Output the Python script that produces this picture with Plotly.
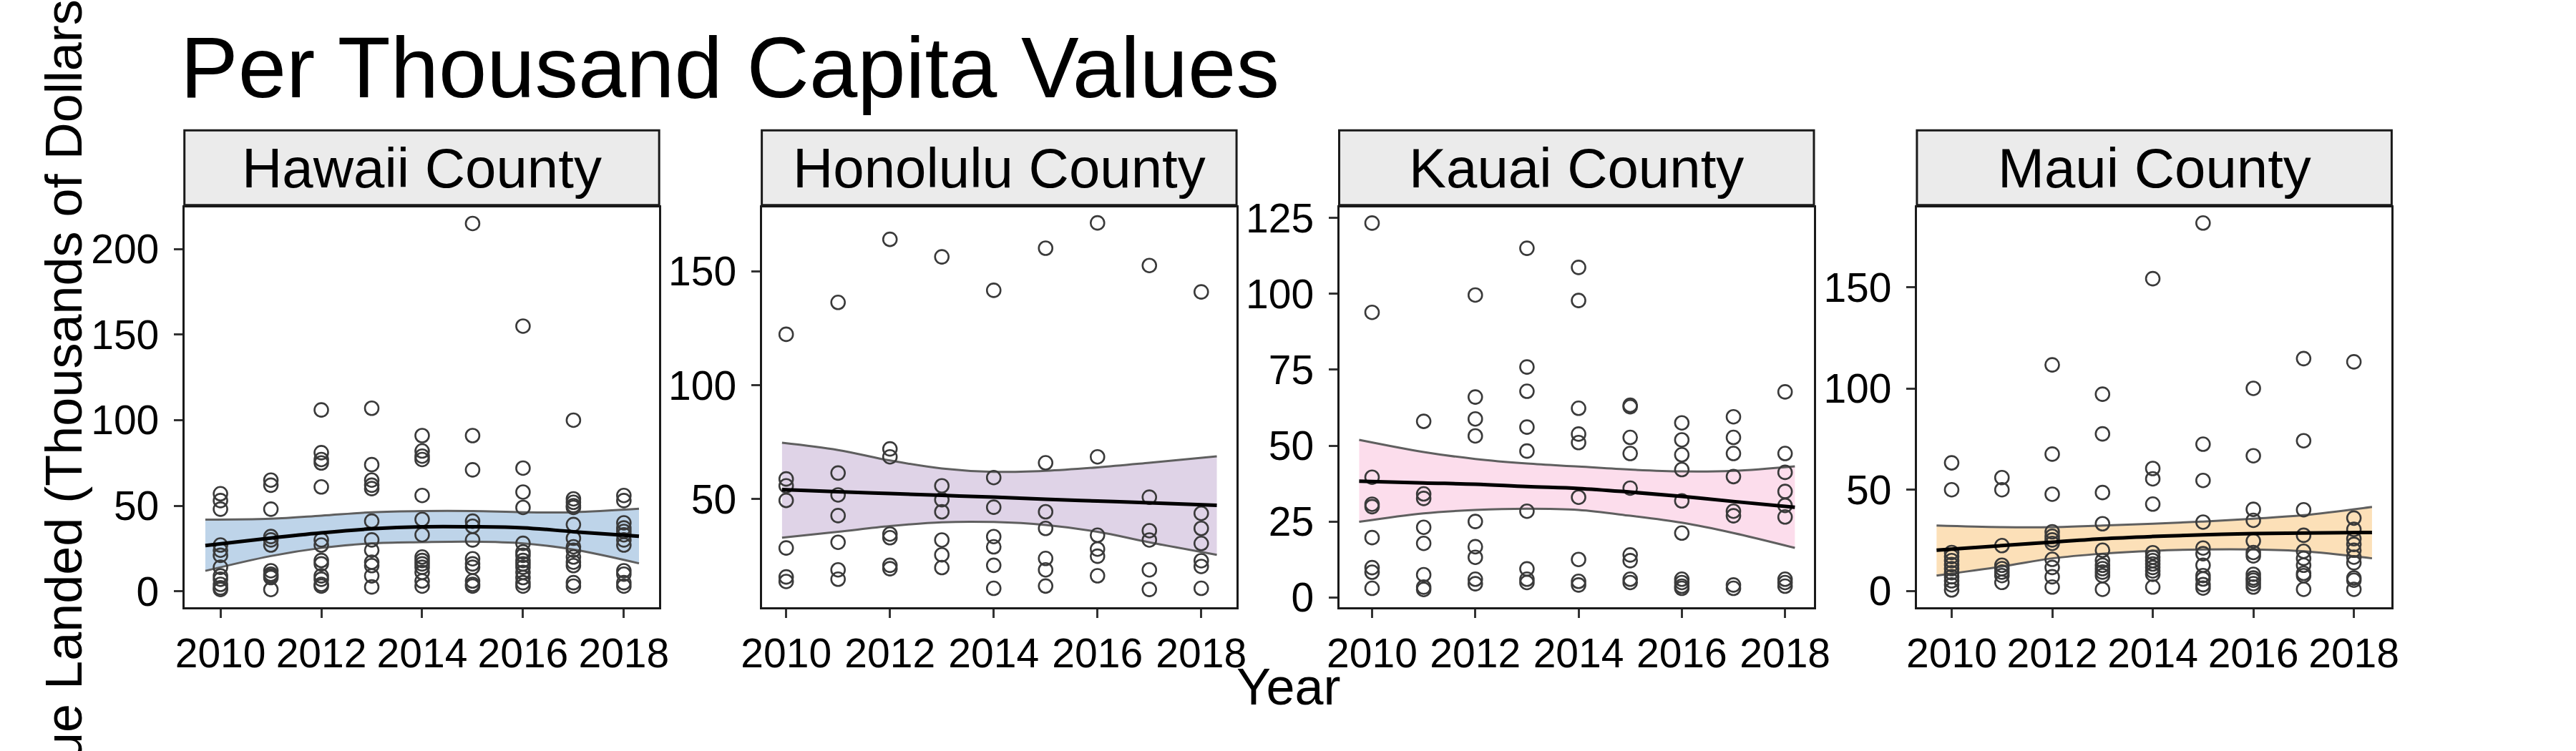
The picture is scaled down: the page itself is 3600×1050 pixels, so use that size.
import plotly.graph_objects as go

# ---------------- data ----------------
years = [2010, 2011, 2012, 2013, 2014, 2015, 2016, 2017, 2018]
counties = ["Hawaii County", "Honolulu County", "Kauai County", "Maui County"]

hawaii_values = [
    [57, 53, 48, 27, 24, 21, 14, 9, 7, 4, 2, 1],
    [65, 62, 48, 32, 30, 27, 12, 10, 9, 8, 1],
    [106, 81, 77, 75, 61, 30, 27, 18, 16, 9, 7, 4, 3],
    [107, 74, 65, 62, 60, 41, 30, 24, 17, 15, 9, 2.5],
    [91, 82, 79, 77, 56, 42, 33, 20, 18, 16, 14, 11, 6, 3],
    [215, 91, 71, 41, 38, 30, 19, 16, 14, 6, 4, 3],
    [155, 72, 58, 49, 28, 23, 21, 18, 16, 14, 11, 8, 5, 3],
    [100, 54, 52, 50, 49, 39, 31, 26, 24, 20, 17, 15, 5, 3],
    [56, 53, 40, 37, 35, 33, 30, 27, 12, 10, 5, 3],
]
honolulu_values = [
    [122.4, 58.9, 55.9, 49.5, 28.6, 15.9, 13.9],
    [136.4, 61.5, 51.9, 42.8, 31.1, 19.0, 14.9],
    [164.1, 72.1, 68.6, 34.7, 33.1, 21.0, 19.5],
    [156.4, 55.9, 49.8, 44.5, 32.1, 25.6, 20.0],
    [141.7, 59.5, 46.5, 33.6, 29.1, 21.0, 10.9],
    [160.2, 66.0, 44.5, 37.2, 24.0, 19.0, 11.9],
    [171.3, 68.6, 34.2, 28.1, 25.0, 16.4],
    [152.6, 50.9, 36.2, 32.1, 19.0, 10.4],
    [141.0, 43.8, 37.2, 30.6, 23.0, 20.5, 10.9],
]
kauai_values = [
    [123.3, 93.9, 39.6, 30.7, 29.9, 19.7, 9.8, 8.3, 3.0],
    [58.0, 34.1, 32.6, 23.1, 17.8, 7.5, 3.4, 2.6],
    [99.6, 66.0, 58.8, 53.2, 25.0, 16.7, 13.2, 6.0, 4.5],
    [115.0, 75.9, 67.9, 56.1, 48.2, 28.4, 9.4, 6.0, 4.9],
    [108.7, 97.8, 62.3, 53.8, 51.0, 33.0, 12.5, 5.3, 4.1],
    [63.3, 62.8, 52.7, 47.4, 36.0, 14.0, 12.1, 6.0, 4.9],
    [57.5, 51.9, 47.0, 42.1, 31.8, 21.2, 6.0, 4.9, 3.7, 3.0],
    [59.5, 52.7, 47.4, 39.8, 28.4, 26.9, 4.1, 3.0],
    [67.7, 47.4, 41.2, 34.9, 30.3, 26.5, 6.0, 4.9, 3.7],
]
maui_values = [
    [63.3, 50.0, 19, 17, 15, 13, 11, 9, 7, 5, 3, 0.5],
    [56.0, 50.0, 22.4, 12.7, 11.0, 9.3, 7.6, 4.2],
    [111.7, 67.6, 47.8, 29.2, 27.0, 25.2, 23.5, 15.6, 11.6, 7.0, 1.9],
    [97.2, 77.6, 48.6, 33.2, 20.1, 15.0, 12.7, 11.0, 9.3, 7.6, 0.8],
    [154.3, 60.5, 55.4, 42.9, 18.9, 16.7, 15.0, 13.3, 11.6, 9.9, 8.2, 1.9],
    [181.8, 72.5, 54.6, 34.0, 21.2, 18.4, 12.7, 7.6, 5.9, 3.1, 1.4],
    [100.1, 66.8, 40.3, 34.9, 24.7, 19.0, 17.3, 8.2, 6.4, 5.3, 3.6, 1.9],
    [114.8, 74.2, 40.1, 27.5, 19.6, 16.1, 12.7, 8.7, 7.6, 0.8],
    [113.2, 36.0, 30.4, 25.8, 23.0, 20.1, 16.7, 13.9, 6.4, 5.3, 0.8],
]

# smoothed fit: x, fit, lower, upper
hawaii_fit_x = [2009.70, 2011, 2012, 2013, 2014, 2015, 2016, 2017, 2018.30]
hawaii_fit = [26.7, 31.1, 34.1, 36.5, 37.7, 37.7, 37.1, 34.8, 32.1]
hawaii_lo = [11.9, 20.6, 25.3, 28.0, 28.7, 29.0, 28.0, 24.4, 16.3]
hawaii_hi = [41.9, 42.4, 44.2, 46.2, 46.9, 46.9, 46.2, 46.2, 48.2]

honolulu_fit_x = [2009.92, 2011, 2012, 2013, 2014, 2015, 2016, 2017, 2018.30]
honolulu_fit = [54.2, 53.3, 52.5, 51.7, 50.9, 50.0, 49.2, 48.4, 47.3]
honolulu_lo = [33.1, 35.7, 38.2, 39.9, 40.0, 38.7, 35.7, 31.1, 25.6]
honolulu_hi = [74.8, 71.6, 67.0, 63.5, 62.0, 62.5, 64.0, 66.0, 68.8]

kauai_fit_x = [2009.75, 2011, 2012, 2013, 2014, 2015, 2016, 2017, 2018.19]
kauai_fit = [38.3, 37.7, 37.3, 36.5, 35.9, 34.7, 33.3, 31.6, 29.7]
kauai_lo = [24.9, 27.7, 28.8, 29.2, 28.8, 26.9, 24.6, 21.2, 16.3]
kauai_hi = [51.9, 47.9, 45.6, 44.1, 43.1, 42.1, 41.5, 41.7, 43.2]

maui_fit_x = [2009.70, 2011, 2012, 2013, 2014, 2015, 2016, 2017, 2018.36]
maui_fit = [20.1, 22.4, 24.1, 25.8, 26.9, 27.7, 28.3, 28.6, 28.9]
maui_lo = [7.6, 12.1, 16.1, 18.4, 19.8, 20.5, 20.5, 19.6, 16.1]
maui_hi = [32.3, 31.5, 31.5, 32.3, 33.2, 34.3, 35.7, 37.4, 41.5]

x_ticks = [2010, 2012, 2014, 2016, 2018]
hawaii_y_ticks = [0, 50, 100, 150, 200]
honolulu_y_ticks = [50, 100, 150]
kauai_y_ticks = [0, 25, 50, 75, 100, 125]
maui_y_ticks = [0, 50, 100, 150]

title_text = "Per Thousand Capita Values"
x_title = "Year"
y_title = "Value Landed (Thousands of Dollars)"

# ---------------- styling / layout ----------------
W, H = 3600, 1050
FONT = "Liberation Sans, Arial, Helvetica, sans-serif"
ribbon_colors = ["#BED4E9", "#DFD3E7", "#FCDDEC", "#FCE0B8"]
panel_left = [232, 1050.5, 1869, 2688]
panel_w = 673
panel_top, panel_bottom = 282.4, 860.8
x_ranges = [[2009.285, 2018.70], [2009.53, 2018.68], [2009.363, 2018.559], [2009.309, 2018.751]]
y_ranges = [[-9.4, 224.4], [2.55, 178.1], [-3.26, 128.46], [-8.1, 189.5]]

panels = [
    (hawaii_values, hawaii_fit_x, hawaii_fit, hawaii_lo, hawaii_hi, hawaii_y_ticks),
    (honolulu_values, honolulu_fit_x, honolulu_fit, honolulu_lo, honolulu_hi, honolulu_y_ticks),
    (kauai_values, kauai_fit_x, kauai_fit, kauai_lo, kauai_hi, kauai_y_ticks),
    (maui_values, maui_fit_x, maui_fit, maui_lo, maui_hi, maui_y_ticks),
]

fig = go.Figure()
layout_axes = {}
shapes = []
annotations = []

for i, (vals, fx, fy, flo, fhi, yt) in enumerate(panels):
    n = i + 1
    xa = "x" if n == 1 else f"x{n}"
    ya = "y" if n == 1 else f"y{n}"
    # ribbon
    fig.add_trace(go.Scatter(x=fx, y=flo, xaxis=xa, yaxis=ya, mode="lines",
                             line=dict(color="#5f5f5f", width=3, shape="spline"),
                             hoverinfo="skip", showlegend=False))
    fig.add_trace(go.Scatter(x=fx, y=fhi, xaxis=xa, yaxis=ya, mode="lines",
                             line=dict(color="#5f5f5f", width=3, shape="spline"),
                             fill="tonexty", fillcolor=ribbon_colors[i],
                             hoverinfo="skip", showlegend=False))
    # points
    px, py = [], []
    for yr, vs in zip(years, vals):
        for v in vs:
            px.append(yr)
            py.append(v)
    fig.add_trace(go.Scatter(x=px, y=py, xaxis=xa, yaxis=ya, mode="markers",
                             marker=dict(symbol="circle-open", size=19, color="#3a3a3a",
                                         line=dict(width=2.6, color="#3a3a3a")),
                             showlegend=False))
    # fit line
    fig.add_trace(go.Scatter(x=fx, y=fy, xaxis=xa, yaxis=ya, mode="lines",
                             line=dict(color="black", width=5, shape="spline"),
                             hoverinfo="skip", showlegend=False))

    x0 = panel_left[i] / W
    x1 = (panel_left[i] + panel_w) / W
    y0 = 1 - panel_bottom / H
    y1 = 1 - panel_top / H
    common = dict(showgrid=False, zeroline=False, showline=True, mirror=True,
                  linecolor="#1a1a1a", linewidth=3, ticks="outside", ticklen=12,
                  tickwidth=2.5, tickcolor="#333333",
                  tickfont=dict(family=FONT, size=57, color="black"))
    layout_axes["xaxis" if n == 1 else f"xaxis{n}"] = dict(
        domain=[x0, x1], anchor=ya, range=x_ranges[i],
        tickvals=x_ticks, ticktext=[str(t) for t in x_ticks], **common)
    layout_axes["yaxis" if n == 1 else f"yaxis{n}"] = dict(
        domain=[y0, y1], anchor=xa, range=y_ranges[i],
        tickvals=yt, ticktext=[str(t) for t in yt], ticklabelstandoff=9, **common)

    # strip
    shapes.append(dict(type="rect", xref="paper", yref="paper",
                       x0=x0, x1=x1, y0=1 - 279 / H, y1=1 - 171 / H,
                       fillcolor="#EBEBEB", line=dict(color="#1a1a1a", width=3), layer="above"))
    annotations.append(dict(text=counties[i], xref="paper", yref="paper",
                            x=(x0 + x1) / 2, y=1 - 225 / H, xanchor="center", yanchor="middle",
                            showarrow=False, font=dict(family=FONT, size=78, color="black")))

annotations.append(dict(text=title_text, xref="paper", yref="paper", x=224 / W, y=1 - 80 / H,
                        xanchor="left", yanchor="middle", showarrow=False,
                        font=dict(family=FONT, size=121, color="black")))
annotations.append(dict(text=x_title, xref="paper", yref="paper", x=1796.5 / W, y=1 - 975 / H,
                        xanchor="center", yanchor="middle", showarrow=False,
                        font=dict(family=FONT, size=72, color="black")))
annotations.append(dict(text=y_title, xref="paper", yref="paper", x=60 / W,
                        y=1 - (panel_top + panel_bottom) / 2 / H, textangle=-90,
                        xanchor="center", yanchor="middle", showarrow=False,
                        font=dict(family=FONT, size=72, color="black")))

fig.update_layout(width=W, height=H, margin=dict(l=0, r=0, t=0, b=0),
                  paper_bgcolor="white", plot_bgcolor="white",
                  shapes=shapes, annotations=annotations, showlegend=False,
                  **layout_axes)

fig.write_html("out.html", config={"displayModeBar": False},
               post_script="document.body.style.margin='0';document.body.style.overflow='hidden';")
